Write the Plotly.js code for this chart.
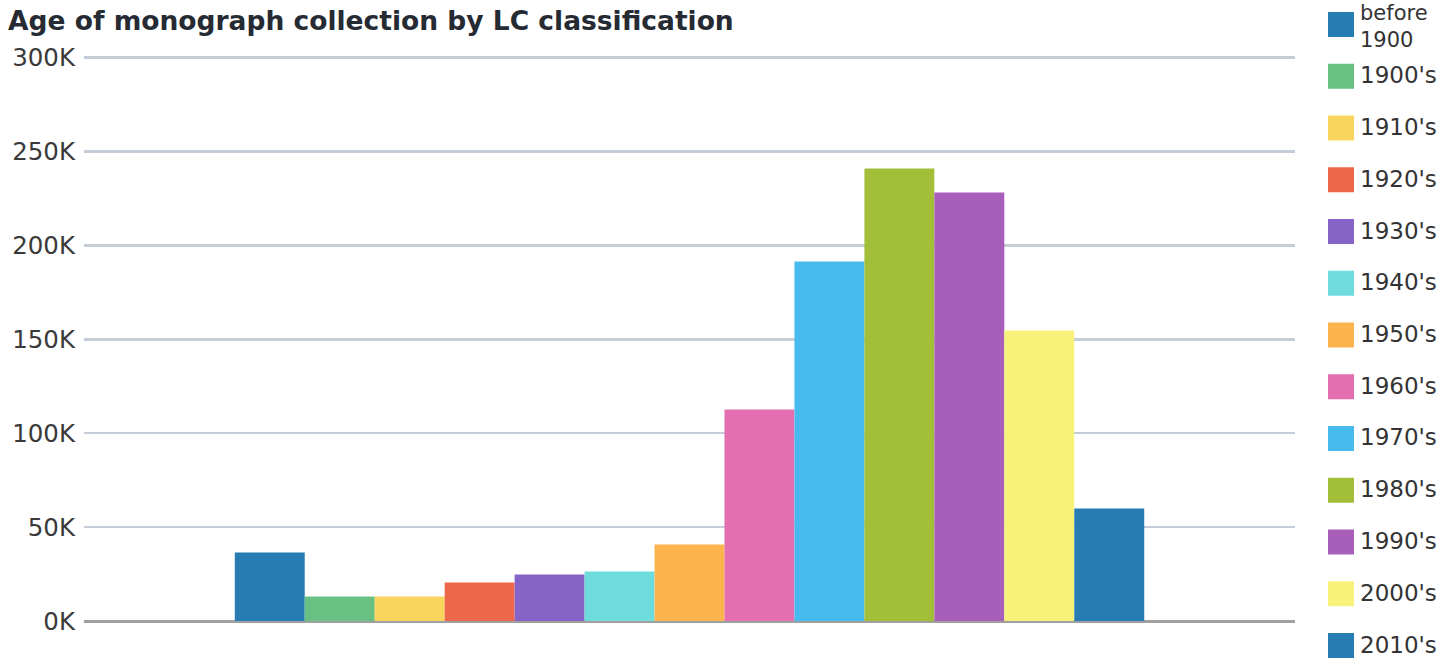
<!DOCTYPE html>
<html>
<head>
<meta charset="utf-8">
<script src="https://cdn.plot.ly/plotly-3.0.1.min.js"></script>
<style>
  html, body { margin: 0; padding: 0; background: #fff; }
  #chart { width: 1442px; height: 658px; }
</style>
</head>
<body>
<div id="chart"></div>
<script>
// ---- data ----
const category = ['Monographs'];
const seriesNames = ['before 1900', "1900's", "1910's", "1920's", "1930's", "1940's", "1950's",
  "1960's", "1970's", "1980's", "1990's", "2000's", "2010's"];
const legendLabels = ['before<br>1900', "1900's", "1910's", "1920's", "1930's", "1940's", "1950's",
  "1960's", "1970's", "1980's", "1990's", "2000's", "2010's"];
const seriesValues = [36500, 13000, 13000, 20500, 24800, 26400, 40700,
  112600, 191400, 240900, 228200, 154700, 59900];
const seriesColors = ['#277db2', '#68c182', '#f9d55d', '#ed674a', '#8663c7', '#6edcdc', '#fdb44f',
  '#e36fb0', '#48bbee', '#a3bf3a', '#a75fba', '#f8f27b', '#277db2'];
const yTickVals = [0, 50000, 100000, 150000, 200000, 250000, 300000];
const yTickText = ['0K', '50K', '100K', '150K', '200K', '250K', '300K'];

// ---- traces ----
const traces = seriesNames.map((n, i) => ({
  type: 'bar',
  name: n,
  x: category,
  y: [seriesValues[i]],
  marker: { color: seriesColors[i], line: { width: 0 } },
  showlegend: false,
  hoverinfo: 'name+y'
}));

// ---- custom legend (large swatches) built from the arrays ----
const W = 1442, H = 658;
const margin = { l: 84, r: 147, t: 55, b: 37 };
const plotW = W - margin.l - margin.r;
const plotH = H - margin.t - margin.b;
const px2x = px => (px - margin.l) / plotW;
const py2y = py => (H - margin.b - py) / plotH;

const shapes = [];
const annotations = [];
seriesNames.forEach((n, i) => {
  const cy = 24.5 + 51.75 * i;
  shapes.push({
    type: 'rect', xref: 'paper', yref: 'paper',
    x0: px2x(1328), x1: px2x(1354),
    y0: py2y(cy + 12.5), y1: py2y(cy - 12.5),
    fillcolor: seriesColors[i], line: { width: 0 }
  });
  const first = i === 0;
  annotations.push({
    xref: 'paper', yref: 'paper',
    x: px2x(1359), y: first ? py2y(0.5) : py2y(cy - 1),
    xanchor: 'left', yanchor: first ? 'top' : 'middle',
    text: legendLabels[i], showarrow: false, align: 'left',
    borderpad: 0,
    font: { family: 'DejaVu Sans', size: first ? 21 : 23, color: '#333' }
  });
});

const layout = {
  width: W, height: H,
  margin: margin,
  paper_bgcolor: '#fff', plot_bgcolor: '#fff',
  title: {
    text: '<b>Age of monograph collection by LC classification</b>',
    font: { family: 'DejaVu Sans', size: 26.5, color: '#262b33' },
    xref: 'container', yref: 'container',
    x: 8 / W, xanchor: 'left',
    y: 1 - 21 / H, yanchor: 'middle'
  },
  barmode: 'group',
  bargap: 0.249,
  bargroupgap: 0,
  showlegend: false,
  xaxis: {
    showticklabels: false, showgrid: false, zeroline: false,
    showline: false, ticks: '', fixedrange: true
  },
  yaxis: {
    range: [0, 301400],
    tickvals: yTickVals, ticktext: yTickText,
    showgrid: true, gridcolor: '#c5ced8', gridwidth: 2.5,
    zeroline: true, zerolinecolor: '#a0a0a0', zerolinewidth: 3,
    showline: false, ticks: '',
    ticklabelstandoff: 8,
    tickfont: { family: 'DejaVu Sans', size: 24.5, color: '#3a3a3a' },
    fixedrange: true
  },
  shapes: shapes,
  annotations: annotations
};

Plotly.newPlot('chart', traces, layout, { displayModeBar: false, staticPlot: true });
</script>
</body>
</html>
